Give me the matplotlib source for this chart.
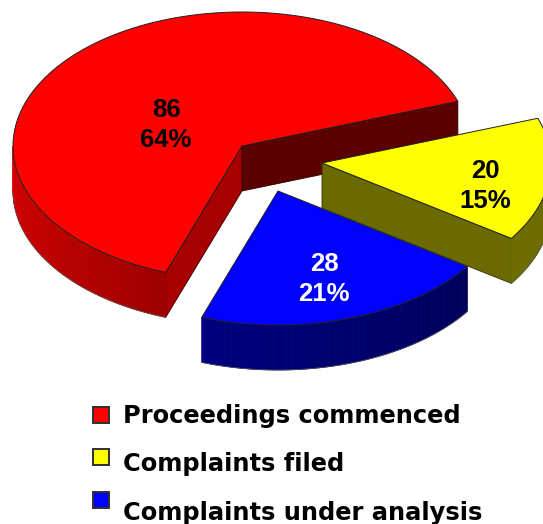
import matplotlib
matplotlib.use('Agg')
import matplotlib.pyplot as plt
from matplotlib.patches import Polygon, Rectangle
import numpy as np

names = ['Proceedings commenced', 'Complaints under analysis', 'Complaints filed']
values = [86, 28, 20]
top_colors = ['#ff0000', '#0000ff', '#ffff00']
text_colors = ['#000000', '#ffffff', '#000000']
legend_order = [0, 2, 1]

plt.rcParams['font.family'] = ['Liberation Sans', 'DejaVu Sans']
fig = plt.figure(figsize=(5.43, 5.24), dpi=100)
ax = fig.add_axes([0, 0, 1, 1])
ax.set_xlim(0, 543)
ax.set_ylim(524, 0)
ax.axis('off')

a, b = 229, 134    # ellipse radii in pixels
depth = 45
start = 19.5

# slice centres after the explode
centres = [(242, 146), (278, 191), (322, 163)]
label_pos = [(166, 125), (324, 279), (485, 186)]
# colours of the sides: rim at rim start, rim at rim end, cut face
rim1 = ['#d80000', '#00007e', '#6c6c00']
rim2 = ['#a00000', '#00005c', '#6c6c00']
face = ['#a80000', '#00005c', '#6a6a00']
back = ['#5a0000', None, None]
edge = ['#300000', '#000030', '#303000']


def arc(c, t1, t2, dy=0, n=120):
    t = np.radians(np.linspace(t1, t2, n))
    return np.column_stack([c[0] + a*np.cos(t), c[1] - b*np.sin(t) + dy])


def mix(c1, c2, f):
    c1 = np.array(matplotlib.colors.to_rgb(c1))
    c2 = np.array(matplotlib.colors.to_rgb(c2))
    return c1*(1-f) + c2*f


total = sum(values)
angles = [start]
for v in values:
    angles.append(angles[-1] + 360.0*v/total)


def cut_face(c, t, col, ec, z):
    p = arc(c, t, t, n=1)[0]
    ax.add_patch(Polygon([c, p, (p[0], p[1]+depth), (c[0], c[1]+depth)],
                         fc=col, ec=ec, lw=0.6, zorder=z))


def draw_slice(i):
    c = centres[i]
    t1, t2 = angles[i], angles[i+1]
    # the part of the rim that faces the viewer (180-360 deg)
    r1 = max(t1, 180)
    r2 = min(t2, 360)
    if i == 0:
        cut_face(c, t1, back[i], edge[i], 1)
        cut_face(c, t2, face[i], edge[i], 1)
    if i == 2:
        cut_face(c, t1, face[i], edge[i], i*3+1)
    # rim as thin strips for the gradient
    ts = np.linspace(r1, r2, 50)
    for j in range(len(ts)-1):
        pts_top = arc(c, ts[j], ts[j+1], n=3)
        pts_bot = pts_top[::-1] + [0, depth]
        col = mix(rim1[i], rim2[i], j/(len(ts)-2))
        ax.add_patch(Polygon(np.vstack([pts_top, pts_bot]), fc=col, ec=col, lw=0.6, zorder=i*3+2))
    ax.plot(*arc(c, r1, r2, depth).T, color='#555555', lw=0.5, zorder=i*3+2)
    # top
    pts = np.vstack([[c], arc(c, t1, t2)])
    ax.add_patch(Polygon(pts, fc=top_colors[i], ec='#202020', lw=0.7, zorder=i*3+3))


for i in range(3):
    draw_slice(i)

for i, v in enumerate(values):
    ax.text(label_pos[i][0], label_pos[i][1], '%d\n%d%%' % (v, round(100.0*v/total)),
            color=text_colors[i], fontsize=18.5, fontweight='bold', ha='center', va='center',
            linespacing=1.3, zorder=20)

# legend
box_y = [407, 449, 492]
text_y = [423, 471, 520]
for k, i in enumerate(legend_order):
    ax.add_patch(Rectangle((93, box_y[k]), 16, 16, fc=top_colors[i], ec='#303030', lw=1.4, zorder=20))
    ax.text(123, text_y[k], names[i], fontsize=17.4, fontweight='bold', color='black',
            family='DejaVu Sans', ha='left', va='baseline', zorder=20)

fig.savefig('out.png', dpi=100)
